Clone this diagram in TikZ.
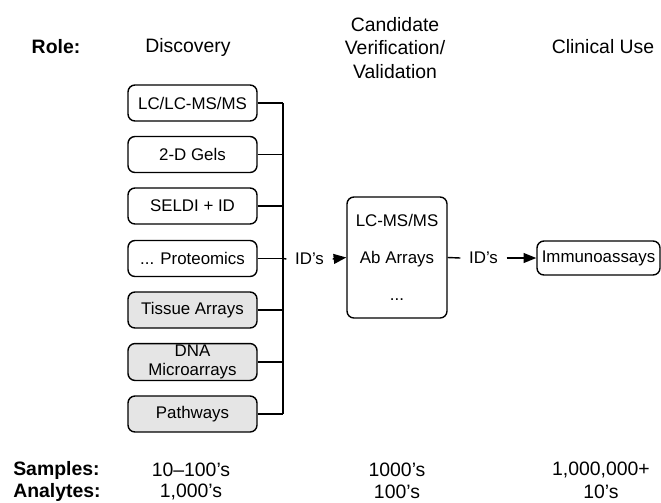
\documentclass[tikz,border=0pt]{standalone}
\usepackage{fontspec}
\setmainfont{Liberation Sans}
\usetikzlibrary{arrows.meta}

\tikzset{
  tech/.style={draw,line width=1pt,rounded corners=5pt,minimum width=3.225cm,minimum height=0.9cm,inner sep=1pt,align=center,font=\fontsize{12}{13.5}\selectfont},
  techgray/.style={tech,fill=black!10},
  head/.style={align=center,inner sep=0pt,font=\fontsize{13.8}{16.7}\selectfont},
  headbold/.style={head,font=\fontsize{13.8}{16.7}\selectfont\bfseries},
  lbl/.style={inner sep=6pt,font=\fontsize{12}{13.5}\selectfont},
  wire/.style={line width=1pt},
  tip/.style={-{Triangle[length=9pt,width=7pt]}}
}

\begin{document}
\begin{tikzpicture}[x=0.025cm,y=-0.025cm]
\useasboundingbox(0,0)rectangle(661,502);
\node[headbold](role)at(56,47){Role:};
\node[head](disc)at(188,47){Discovery};
\node[head](cand)at(395,48){Candidate\\Verification/\\Validation};
\node[head](clin)at(603,47){Clinical Use};
\node[tech](lc)at(192.5,103){LC/LC-MS/MS};
\node[tech](gels)at(192.5,154.5){2-D Gels};
\node[tech](seldi)at(192.5,206){SELDI + ID};
\node[tech](prot)at(192.5,258.5){... Proteomics};
\node[techgray](tiss)at(192.5,310){Tissue Arrays};
\node[techgray](dna)at(192.5,362){DNA\\Microarrays};
\node[techgray](path)at(192.5,414){Pathways};
\coordinate(bus)at(283,0);
\foreach \b in {lc,gels,seldi,prot,tiss,dna,path}
  \draw[wire](\b.east)--(\b.east-|bus);
\draw[wire](lc.east-|bus)--(path.east-|bus);
\node[tech,minimum width=2.5cm,minimum height=3.025cm,font=\fontsize{12}{26.3}\selectfont](mid)at(397,257.5){LC-MS/MS\\Ab Arrays\\...};
\node[lbl](ids)at(309.5,259){ID's};
\draw[wire](prot.east-|bus)--(ids.west);
\draw[wire,tip](ids.east)--(mid.west);
\node[tech,minimum width=3.075cm,minimum height=0.85cm](imm)at(598.5,258){Immunoassays};
\node[lbl](idsb)at(483.5,258){ID's};
\draw[wire](mid.east)--(idsb.west);
\draw[wire,tip](idsb.east)--(imm.west);
\node[headbold,anchor=west](samp)at(13,470){Samples:};
\node[headbold,anchor=west](anly)at(13,492){Analytes:};
\node[head](sdisc)at(191,470){10--100's};
\node[head](adisc)at(191,492){1,000's};
\node[head](scand)at(397,470){1000's};
\node[head](acand)at(397,492){100's};
\node[head](sclin)at(601,470){1,000,000+};
\node[head](aclin)at(601,492){10's};
\end{tikzpicture}
\end{document}
